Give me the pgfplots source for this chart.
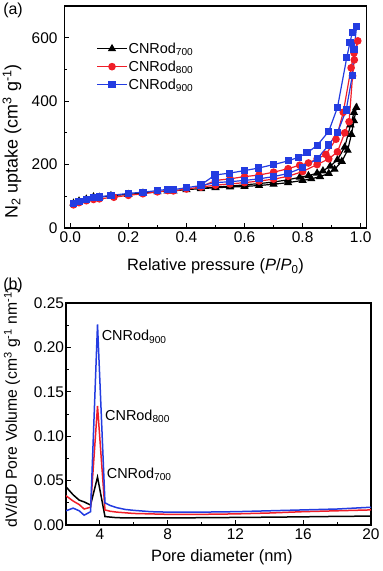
\documentclass[border=0pt]{standalone}
\usepackage{pgfplots}
\pgfplotsset{compat=1.18}
\usepackage{fontspec}
\setmainfont{Liberation Sans}
\definecolor{cred}{RGB}{240,30,40}
\definecolor{cblue}{RGB}{35,60,225}
\newcommand\fs{\fontsize{15.5}{18}\selectfont}
\newcommand\fx{\fontsize{16.5}{19}\selectfont}
\newcommand\fl{\fontsize{14.5}{17}\selectfont}
\pgfplotsset{
  /pgf/number format/assume math mode=true,
  myax/.style={scale only axis, tick align=inside, tick pos=left,
    major tick length=5bp, minor tick length=3bp,
    every tick/.style={black, line width=0.9bp},
    axis line style={line width=1.2bp},
    tick label style={font=\fs}, label style={font=\fx},
    minor tick num=1},
}
\begin{document}
\begin{tikzpicture}
\useasboundingbox (0,0) rectangle (383bp,571bp);
\node[font=\fontsize{16}{18}\selectfont, inner sep=0pt] at (13bp,561bp) {(a)};
\node[font=\fontsize{16}{18}\selectfont, inner sep=0pt] at (13bp,286bp) {(b)};
% ---------- top panel
\begin{axis}[myax, at={(64.5bp,343bp)}, anchor=south west,
  width=302bp, height=222bp,
  xmin=-0.02, xmax=1.02, ymin=0, ymax=700,
  xtick={0,0.2,0.4,0.6,0.8,1}, ytick={0,200,400,600},
  x tick label style={/pgf/number format/.cd, fixed, fixed zerofill, precision=1},
  y tick label style={xshift=-3.5bp},
  xlabel={Relative pressure (\textit{P}/\textit{P}\textsubscript{0})},
  ylabel={N\textsubscript{2} uptake (cm\textsuperscript{3} g\textsuperscript{-1})},
  xlabel style={at={(axis description cs:0.5,-0.174)}, anchor=center},
  ylabel style={font=\fontsize{18}{20}\selectfont, at={(axis description cs:-0.174,0.39)}, anchor=center},
  legend style={draw=none, fill=none, font=\fl, at={(axis description cs:0.105,0.84)}, anchor=north west,
     row sep=4bp, inner sep=0pt, nodes={inner sep=1bp}},
  legend cell align=left,
  legend image code/.code={\draw[mark repeat=2,mark phase=2,#1] plot coordinates {(0bp,0bp) (15bp,0bp) (30bp,0bp)};},
]
\addplot[black, line width=1.2bp, mark=triangle*, mark size=3.6bp, mark options={solid}] table {
0.011 78
0.03 85
0.055 91
0.08 98
0.1 97
0.14 102
0.2 106
0.25 110
0.3 114
0.335 117
0.355 117
0.4 121
0.45 124
0.5 127
0.55 129
0.6 131
0.65 134
0.7 138
0.75 143
0.8 150
0.83 155
0.86 162
0.89 172
0.91 185
0.935 210
0.955 245
0.968 295
0.977 338
0.985 380
0.977 364
0.965 325
0.945 255
0.92 215
0.895 195
0.87 180
0.85 173
0.82 165
0.79 160
0.75 152
0.7 145
0.65 140
0.6 136
0.55 132
0.5 129
0.45 125
};
\addlegendentry{CNRod\textsubscript{700}}
\addplot[cred, line width=1.2bp, mark=*, mark size=3.2bp, mark options={solid}] table {
0.011 73
0.03 80
0.055 86
0.08 90
0.1 92
0.15 97
0.2 103
0.25 108
0.3 114
0.335 118
0.355 117
0.4 123
0.45 129
0.5 135
0.55 139
0.6 143
0.65 148
0.7 154
0.75 163
0.8 178
0.85 200
0.89 218
0.92 240
0.945 300
0.96 335
0.972 480
0.978 530
0.99 590
0.977 552
0.967 505
0.94 365
0.915 280
0.88 232
0.85 218
0.82 205
0.79 198
0.75 187
0.7 176
0.65 167
0.6 162
0.55 155
0.5 150
0.45 130
};
\addlegendentry{CNRod\textsubscript{800}}
\addplot[cblue, line width=1.2bp, mark=square*, mark size=3bp, mark options={solid}] table {
0.011 76
0.03 83
0.055 90
0.08 96
0.1 98
0.14 103
0.2 109
0.25 113
0.3 118
0.335 122
0.355 121
0.4 127
0.45 134
0.5 143
0.55 146
0.6 150
0.65 155
0.7 162
0.75 172
0.8 190
0.85 218
0.89 262
0.92 300
0.95 372
0.971 480
0.977 562
0.986 636
0.971 616
0.963 585
0.952 537
0.92 380
0.89 305
0.85 260
0.815 237
0.785 223
0.752 212
0.7 200
0.648 189
0.6 181
0.548 173
0.498 167
0.45 136
};
\addlegendentry{CNRod\textsubscript{900}}
\end{axis}
% ---------- bottom panel
\begin{axis}[myax, at={(66bp,46bp)}, anchor=south west,
  width=305bp, height=222bp,
  xmin=2, xmax=20, ymin=0, ymax=0.25,
  xtick={4,8,12,16,20}, ytick={0,0.05,0.1,0.15,0.2,0.25},
  y tick label style={xshift=1.5bp, /pgf/number format/.cd, fixed, fixed zerofill, precision=2},
  xlabel={Pore diameter (nm)},
  ylabel={dV/dD Pore Volume (cm\textsuperscript{3} g\textsuperscript{-1} nm\textsuperscript{-1})},
  xlabel style={at={(axis description cs:0.511,-0.143)}, anchor=center},
  ylabel style={font=\fontsize{15.8}{18}\selectfont, at={(axis description cs:-0.177,0.53)}, anchor=center},
]
\addplot[black, line width=1.5bp] table {
2.0 0.043
2.42 0.034
2.78 0.028
3.07 0.026
3.45 0.0225
3.86 0.054
4.3 0.0095
5.0 0.0082
6.0 0.008
8.0 0.008
10 0.0082
12 0.0085
14 0.0088
16 0.0092
18 0.0097
20 0.0100
};
\addplot[cred, line width=1.5bp] table {
2.0 0.033
2.42 0.027
2.78 0.023
3.07 0.018
3.45 0.020
3.86 0.134
4.3 0.017
4.6 0.0155
5.0 0.0145
6.0 0.013
8.0 0.012
10 0.012
12 0.0125
14 0.0135
16 0.015
18 0.016
20 0.017
};
\addplot[cblue, line width=1.5bp] table {
2.0 0.016
2.42 0.019
2.78 0.016
3.07 0.011
3.45 0.015
3.86 0.226
4.3 0.025
4.6 0.022
5.0 0.0195
5.5 0.0175
6.0 0.0165
7.0 0.015
8.0 0.0145
10 0.0145
12 0.015
14 0.016
16 0.017
18 0.018
20 0.020
};
\node[anchor=west, inner sep=0pt, font=\fl] at (axis cs:4.1,0.212) {CNRod\textsubscript{900}};
\node[anchor=west, inner sep=0pt, font=\fl] at (axis cs:4.3,0.122) {CNRod\textsubscript{800}};
\node[anchor=west, inner sep=0pt, font=\fl] at (axis cs:4.4,0.057) {CNRod\textsubscript{700}};
\end{axis}
\end{tikzpicture}
\end{document}
